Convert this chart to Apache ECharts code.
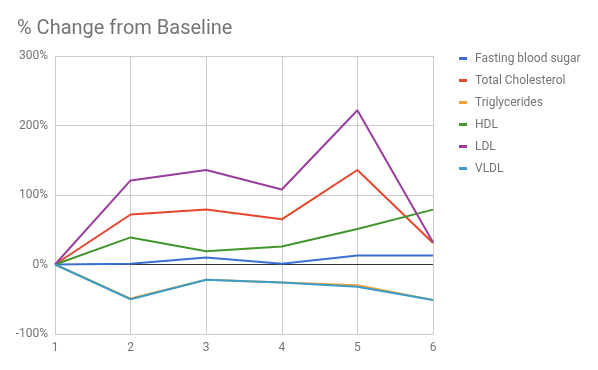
<!DOCTYPE html>
<html><head><meta charset="utf-8">
<script src="https://cdn.jsdelivr.net/npm/echarts@6/dist/echarts.min.js"></script>
<style>html,body{margin:0;padding:0;background:#fff}#c{width:598px;height:370px}</style>
</head><body><div id="c"></div>
<script>
var categories = ['1','2','3','4','5','6'];
var seriesNames = ['Fasting blood sugar','Total Cholesterol','Triglycerides','HDL','LDL','VLDL'];
var fastingBloodSugar = [0, 1, 10, 1, 13, 13];
var totalCholesterol = [0, 72, 79, 65, 136, 31];
var triglycerides = [0, -49, -22, -26, -30, -51];
var hdl = [0, 39, 19, 26, 51, 79];
var ldl = [0, 121, 136, 108, 222, 32];
var vldl = [0, -50, -22, -26, -32, -51];
var yTicks = [-100, 0, 100, 200, 300];
var colors = ['#3a6fd4','#e4472b','#f7a033','#42962c','#9a3e9e','#3a9cc9'];

var dataSets = [fastingBloodSugar, totalCholesterol, triglycerides, hdl, ldl, vldl];
var series = dataSets.map(function(d, i){
  var s = {
    name: seriesNames[i], type: 'line', data: d, showSymbol: false, symbol: 'none',
    lineStyle: {width: 2, color: colors[i]}, itemStyle: {color: colors[i]},
    emphasis: {disabled: true}, animation: false
  };
  if (i === 0) {
    s.markLine = {silent: true, symbol: 'none', label: {show: false}, animation: false,
      lineStyle: {color: '#333', width: 1, type: 'solid'}, data: [{yAxis: 0}], z: 1};
  }
  return s;
});

var chart = echarts.init(document.getElementById('c'), null, {renderer: 'canvas'});
chart.setOption({
  animation: false,
  title: {text: '% Change from Baseline', left: 12, top: 14,
    textStyle: {fontFamily: 'Roboto', fontSize: 20, fontWeight: 'normal', color: '#757575'}},
  legend: {orient: 'vertical', left: 454, top: 47, icon: 'rect', itemWidth: 8, itemHeight: 3,
    itemGap: 9, data: seriesNames,
    textStyle: {fontFamily: 'Roboto', fontSize: 12, color: '#757575', padding: [0,0,0,3], lineHeight: 13}},
  grid: {left: 55, right: 165, top: 56, bottom: 36, containLabel: false},
  xAxis: {type: 'category', data: categories, boundaryGap: false,
    axisLine: {show: true, onZero: false, lineStyle: {color: '#ccc'}},
    axisTick: {show: false},
    axisLabel: {color: '#757575', fontFamily: 'Roboto', fontSize: 12, margin: 8},
    splitLine: {show: true, lineStyle: {color: '#ccc', width: 1}}},
  yAxis: {type: 'value', min: yTicks[0], max: yTicks[yTicks.length-1], interval: 100,
    axisLine: {show: false}, axisTick: {show: false},
    axisLabel: {color: '#757575', fontFamily: 'Roboto', fontSize: 12, margin: 7,
      formatter: function(v){ return v + '%'; }},
    splitLine: {show: true, lineStyle: {color: '#ccc', width: 1}}},
  series: series
});
</script></body></html>
